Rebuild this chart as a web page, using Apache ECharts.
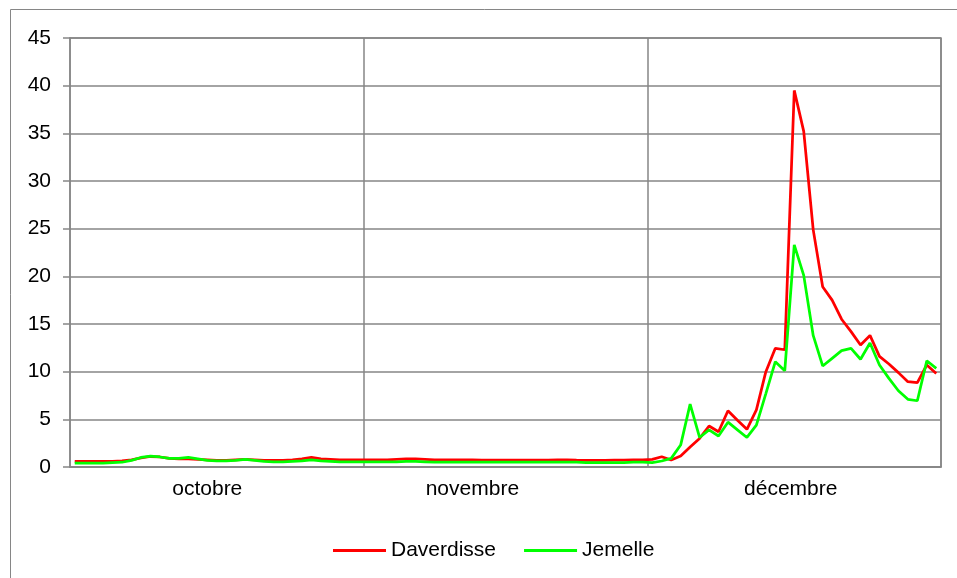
<!DOCTYPE html>
<html>
<head>
<meta charset="utf-8">
<script src="https://cdn.jsdelivr.net/npm/echarts@6/dist/echarts.min.js"></script>
<style>
  html, body { margin: 0; padding: 0; background: #fff; }
  #graf { width: 957px; height: 578px; }
</style>
</head>
<body>
<div id="graf"></div>
<script>
// mois affichés sur l'axe x
var mois = ['octobre', 'novembre', 'décembre'];
var joursParMois = [31, 30, 31];
// index du jour qui porte le nom du mois
var jourEtiquette = [14, 42, 76];

// valeurs journalières
var daverdisse = [
  // octobre
  0.6, 0.6, 0.6, 0.6, 0.6, 0.65, 0.75, 0.95, 1.1, 1.05, 0.9, 0.85, 0.85, 0.8, 0.75, 0.7,
  0.7, 0.75, 0.8, 0.75, 0.7, 0.7, 0.7, 0.75, 0.85, 1.0, 0.85, 0.8, 0.75, 0.75, 0.75,
  // novembre
  0.75, 0.75, 0.75, 0.8, 0.85, 0.85, 0.8, 0.75, 0.75, 0.75, 0.75, 0.75, 0.72, 0.72, 0.72,
  0.72, 0.72, 0.72, 0.72, 0.72, 0.75, 0.75, 0.72, 0.7, 0.7, 0.7, 0.72, 0.72, 0.75, 0.75,
  // décembre
  0.8, 1.08, 0.73, 1.15, 2.1, 3.0, 4.3, 3.7, 5.9, 4.9, 3.95, 6.0, 10.0, 12.45, 12.3, 39.5,
  35.2, 24.9, 18.9, 17.5, 15.5, 14.2, 12.8, 13.8, 11.6, 10.8, 9.9, 8.95, 8.85, 10.7, 9.8
];
var jemelle = [
  // octobre
  0.4, 0.4, 0.4, 0.4, 0.45, 0.5, 0.7, 1.0, 1.15, 1.05, 0.9, 0.9, 1.0, 0.85, 0.7, 0.65,
  0.65, 0.7, 0.8, 0.7, 0.6, 0.55, 0.55, 0.6, 0.65, 0.75, 0.65, 0.6, 0.55, 0.55, 0.55,
  // novembre
  0.55, 0.55, 0.55, 0.55, 0.6, 0.6, 0.55, 0.5, 0.5, 0.5, 0.5, 0.5, 0.5, 0.5, 0.5,
  0.5, 0.5, 0.5, 0.5, 0.5, 0.5, 0.5, 0.5, 0.45, 0.45, 0.45, 0.45, 0.45, 0.5, 0.5,
  // décembre
  0.45, 0.63, 0.9, 2.3, 6.6, 3.1, 3.9, 3.25, 4.7, 3.9, 3.1, 4.4, 7.7, 11.05, 10.1, 23.3,
  20.1, 13.8, 10.6, 11.4, 12.2, 12.45, 11.3, 13.0, 10.7, 9.3, 8.0, 7.1, 6.95, 11.15, 10.35
];

// une catégorie par jour, ex. 1/10
var jours = [];
var debutMois = [];
joursParMois.forEach(function (n, m) {
  debutMois.push(jours.length);
  for (var d = 1; d <= n; d++) jours.push(d + '/' + (10 + m));
});

var police = "'Liberation Sans', Arial, sans-serif";
var gris = '#868686';

var myChart = echarts.init(document.getElementById('graf'));

var option = {
  animation: false,
  backgroundColor: '#fff',
  textStyle: { fontFamily: police },
  graphic: [{
    type: 'rect',
    shape: { x: 10.5, y: 9.5, width: 970, height: 600 },
    style: { fill: 'none', stroke: gris, lineWidth: 1 }
  }],
  grid: {
    left: 70, right: 16, top: 38, bottom: 111,
    show: true, borderColor: gris, borderWidth: 1.5
  },
  legend: {
    bottom: 12,
    left: 328,
    itemWidth: 53,
    itemHeight: 3,
    itemGap: 28,
    icon: 'rect',
    textStyle: { fontSize: 21, color: '#000', fontFamily: police },
    data: ['Daverdisse', 'Jemelle']
  },
  xAxis: {
    type: 'category',
    boundaryGap: true,
    data: jours,
    axisLine: { lineStyle: { color: gris, width: 1.5 } },
    axisTick: { show: false },
    axisLabel: {
      interval: function (index) { return jourEtiquette.indexOf(index) >= 0; },
      formatter: function (value, index) {
        var m = jourEtiquette.indexOf(index);
        return m === 2 ? '{d|' + mois[m] + '}' : mois[m];
      },
      rich: { d: { fontSize: 21, color: '#000', fontFamily: police, padding: [0, 7, 0, 0] } },
      margin: 12,
      fontSize: 21,
      color: '#000'
    },
    splitLine: {
      show: true,
      interval: function (index) { return debutMois.indexOf(index) > 0; },
      lineStyle: { color: gris, width: 1.5 }
    }
  },
  yAxis: {
    type: 'value',
    min: 0,
    max: 45,
    interval: 5,
    axisLine: { show: true, lineStyle: { color: gris, width: 1.5 } },
    axisTick: { show: true, length: 7, lineStyle: { color: gris, width: 1.5 } },
    axisLabel: { fontSize: 21, color: '#000', margin: 19 },
    splitLine: { lineStyle: { color: gris, width: 1.5 } }
  },
  series: [
    {
      name: 'Daverdisse',
      type: 'line',
      data: daverdisse,
      showSymbol: false,
      symbol: 'none',
      color: '#ff0000',
      lineStyle: { width: 2.75, color: '#ff0000' }
    },
    {
      name: 'Jemelle',
      type: 'line',
      data: jemelle,
      showSymbol: false,
      symbol: 'none',
      color: '#00ff00',
      lineStyle: { width: 2.75, color: '#00ff00' }
    }
  ]
};

myChart.setOption(option);
</script>
</body>
</html>
